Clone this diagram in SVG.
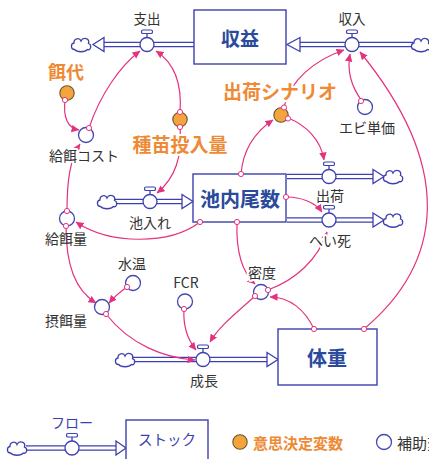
<svg xmlns="http://www.w3.org/2000/svg" xmlns:xlink="http://www.w3.org/1999/xlink" width="429" height="459" viewBox="0 0 429 459">
<style>
text{font-family:"Noto Sans CJK JP","Liberation Sans",sans-serif;text-anchor:middle;dominant-baseline:central}
.lbl{font-size:14px;fill:#333}
.halo{stroke:#fff;stroke-width:4;stroke-linejoin:round;paint-order:stroke}
.stk{font-size:20px;font-weight:bold;fill:#2b4a9c}
.dec{font-size:19px;font-weight:bold;fill:#ee8a35}
.blue{fill:#3a3fae}
.box{fill:#fff;stroke:#3d40ae;stroke-width:1.4}
.aux{fill:#fff;stroke:#4347b4;stroke-width:1.3}
.dcs{fill:#f5a33b;stroke:#6b5530;stroke-width:1.1}
.po{fill:none;stroke:#3d40ae;stroke-width:5.6}
.pi{fill:none;stroke:#fff;stroke-width:3}
.ah{fill:#fff;stroke:#3d40ae;stroke-width:1.3;stroke-linejoin:miter}
.cl{fill:#fff;stroke:#3d40ae;stroke-width:1.3}
.ln{fill:none;stroke:#e5327e;stroke-width:1.2;marker-end:url(#tip)}
.od{fill:#fff;stroke:#e5327e;stroke-width:1}
</style>
<defs>
<marker id="tip" viewBox="0 0 8 8" refX="7.5" refY="4" markerWidth="8" markerHeight="8" orient="auto" markerUnits="userSpaceOnUse"><path d="M0,0.3 L8,4 L0,7.7 z" fill="#e5327e"/></marker>
<g id="valve"><line x1="0" y1="-7" x2="0" y2="-11" stroke="#3d40ae" stroke-width="1.3"/><rect x="-5.5" y="-14.5" width="11" height="3.5" rx="1.6" fill="#fff" stroke="#3d40ae" stroke-width="1.2"/><circle r="7" fill="#fff" stroke="#3d40ae" stroke-width="1.3"/></g>
<path id="cloud" d="M-6.5,5 C-10.5,5 -10.5,-1 -7,-1.5 C-7.5,-6 -1.5,-7.5 0,-3.5 C2,-8 9,-6 7.5,-1 C11,0 10,6.5 6.5,5 C4,8 -4,8 -6.5,5 Z"/>
</defs>
<rect width="429" height="459" fill="#fff"/>

<g id="pipes">
<path class="po" d="M194,44.5 H104"/><path class="pi" d="M194,44.5 H104"/><polygon class="ah" points="104,37.5 93,44.5 104,51.5"/><use xlink:href="#cloud" x="81" y="44.5" class="cl"/>
<path class="po" d="M413,44.5 H300"/><path class="pi" d="M413,44.5 H300"/><polygon class="ah" points="300,37.5 287,44.5 300,51.5"/><use xlink:href="#cloud" x="421" y="44.5" class="cl"/>
<path class="po" d="M115,201.5 H182"/><path class="pi" d="M115,201.5 H182"/><polygon class="ah" points="182,194.5 193,201.5 182,208.5"/><use xlink:href="#cloud" x="107" y="201.5" class="cl"/>
<path class="po" d="M287,176.5 H373"/><path class="pi" d="M287,176.5 H373"/><polygon class="ah" points="373,169.5 384,176.5 373,183.5"/><use xlink:href="#cloud" x="393" y="176.5" class="cl"/>
<path class="po" d="M287,220 H373"/><path class="pi" d="M287,220 H373"/><polygon class="ah" points="373,213 384,220 373,227"/><use xlink:href="#cloud" x="393" y="220" class="cl"/>
<path class="po" d="M133,359.5 H267"/><path class="pi" d="M133,359.5 H267"/><polygon class="ah" points="267,352.5 278,359.5 267,366.5"/><use xlink:href="#cloud" x="125" y="359.5" class="cl"/>
</g>

<g id="connectors">
<path class="ln" d="M65,100 C63,118 68,128 79,130"/>
<path class="ln" d="M89,128 C100,95 120,66 140,51"/>
<path class="ln" d="M180,112 C182,85 176,64 156,51"/>
<path class="ln" d="M180,127 C183,160 173,180 157,193"/>
<path class="ln" d="M284,107 C290,80 315,60 344,50"/>
<path class="ln" d="M288,118 C306,125 321,140 324,160"/>
<path class="ln" d="M362,101 C350,85 347,70 350,54"/>
<path class="ln" d="M364,329 C440,265 458,172 360,52"/>
<path class="ln" d="M241,174 C243,150 255,132 273,120"/>
<path class="ln" d="M287,197 C300,197 315,202 322,212"/>
<path class="ln" d="M200,222 C170,245 110,245 76,222"/>
<path class="ln" d="M237,222 C236,250 242,272 255,284"/>
<path class="ln" d="M268,290 C295,280 318,260 327,232"/>
<path class="ln" d="M314,329 C305,310 290,297 270,297"/>
<path class="ln" d="M255,296 C240,310 220,325 210,342"/>
<path class="ln" d="M184,309 C183,325 188,340 196,350"/>
<path class="ln" d="M106,314 C130,345 165,358 195,360"/>
<path class="ln" d="M127,287 C120,292 114,297 109,303"/>
<path class="ln" d="M66,226 C66,265 75,290 96,303"/>
<path class="ln" d="M67,211 C67,180 70,160 80,144"/>
</g>

<g id="stock-shueki"><rect class="box" x="194" y="10" width="92" height="54"/><text class="stk" x="240" y="37" style="font-size:19px">収益</text></g>
<g id="stock-chinai"><rect class="box" x="193" y="174" width="93" height="48"/><text class="stk" x="240" y="198">池内尾数</text></g>
<g id="stock-taiju"><rect class="box" x="278" y="329" width="99" height="56"/><text class="stk" x="327" y="357">体重</text></g>

<g id="flow-shishutsu"><use xlink:href="#valve" x="147" y="44.5"/><text class="lbl" x="147" y="18" style="font-size:13.5px">支出</text></g>
<g id="flow-shunyu"><use xlink:href="#valve" x="352" y="44.5"/><text class="lbl" x="352" y="18" style="font-size:13.5px">収入</text></g>
<g id="flow-ikeire"><use xlink:href="#valve" x="150" y="201.5"/><text class="lbl" x="150" y="222">池入れ</text></g>
<g id="flow-shukka"><use xlink:href="#valve" x="329" y="176.5"/><text class="lbl" x="330" y="195">出荷</text></g>
<g id="flow-heishi"><use xlink:href="#valve" x="329" y="220"/><text class="lbl halo" x="330" y="240">へい死</text></g>
<g id="flow-seicho"><use xlink:href="#valve" x="203" y="359.5"/><text class="lbl" x="204" y="380">成長</text></g>

<g id="dec-esadai"><circle class="dcs" cx="67" cy="93" r="7.2"/><text class="dec" x="66" y="71" style="font-size:18px">餌代</text></g>
<g id="dec-shubyo"><circle class="dcs" cx="180" cy="119.5" r="7.2"/><text class="dec halo" x="180" y="143">種苗投入量</text></g>
<g id="dec-shukka"><circle class="dcs" cx="281" cy="115" r="7.2"/><text class="dec halo" x="280" y="90">出荷シナリオ</text></g>

<g id="aux-kyujicost"><circle class="aux" cx="86" cy="135" r="7.5"/><text class="lbl halo" x="84" y="155">給餌コスト</text></g>
<g id="aux-ebitanka"><circle class="aux" cx="365" cy="107" r="7.5"/><text class="lbl" x="367" y="127">エビ単価</text></g>
<g id="aux-kyujiryo"><circle class="aux" cx="67" cy="218.5" r="7.5"/><text class="lbl" x="66" y="238">給餌量</text></g>
<g id="aux-suion"><circle class="aux" cx="133" cy="283" r="7.5"/><text class="lbl" x="132" y="263">水温</text></g>
<g id="aux-fcr"><circle class="aux" cx="185" cy="301.5" r="7.5"/><text class="lbl" x="186" y="282">FCR</text></g>
<g id="aux-sesjiryo"><circle class="aux" cx="102" cy="307" r="7.5"/><text class="lbl" x="66" y="320">摂餌量</text></g>
<g id="aux-mitsudo"><circle class="aux" cx="261" cy="292" r="7.5"/><text class="lbl halo" x="262" y="272">密度</text></g>

<g id="connector-origins">
<circle class="od" cx="65" cy="100" r="2.6"/>
<circle class="od" cx="89" cy="128" r="2.6"/>
<circle class="od" cx="180" cy="112" r="2.6"/>
<circle class="od" cx="180" cy="127" r="2.6"/>
<circle class="od" cx="284" cy="107.5" r="2.6"/>
<circle class="od" cx="288" cy="118.5" r="2.6"/>
<circle class="od" cx="361" cy="101" r="2.6"/>
<circle class="od" cx="364" cy="329" r="2.6"/>
<circle class="od" cx="241" cy="174" r="2.6"/>
<circle class="od" cx="286" cy="197" r="2.6"/>
<circle class="od" cx="200" cy="222" r="2.6"/>
<circle class="od" cx="237" cy="222" r="2.6"/>
<circle class="od" cx="268" cy="290" r="2.6"/>
<circle class="od" cx="314" cy="329" r="2.6"/>
<circle class="od" cx="255" cy="296" r="2.6"/>
<circle class="od" cx="184" cy="309" r="2.6"/>
<circle class="od" cx="106" cy="314" r="2.6"/>
<circle class="od" cx="127" cy="287" r="2.6"/>
<circle class="od" cx="66" cy="226" r="2.6"/>
<circle class="od" cx="67" cy="211" r="2.6"/>
</g>

<g id="legend">
<g id="legend-flow"><path class="po" d="M26,448 H116"/><path class="pi" d="M26,448 H116"/><polygon class="ah" points="116,441 126,448 116,455"/><use xlink:href="#cloud" x="17" y="448" class="cl"/><use xlink:href="#valve" x="72" y="448"/><text class="blue" x="72" y="422" style="font-size:14px">フロー</text></g>
<g id="legend-stock"><rect class="box" x="126" y="420" width="82" height="50"/><text class="blue" x="167" y="438" style="font-size:14.5px">ストック</text></g>
<g id="legend-decision"><circle class="dcs" cx="240" cy="442" r="7.2"/><text class="dec" x="253" y="442" style="font-size:15px;text-anchor:start">意思決定変数</text></g>
<g id="legend-aux"><circle class="aux" cx="384" cy="442" r="7.5"/><text class="lbl" x="397" y="442" style="font-size:15px;text-anchor:start">補助変数</text></g>
</g>
</svg>
